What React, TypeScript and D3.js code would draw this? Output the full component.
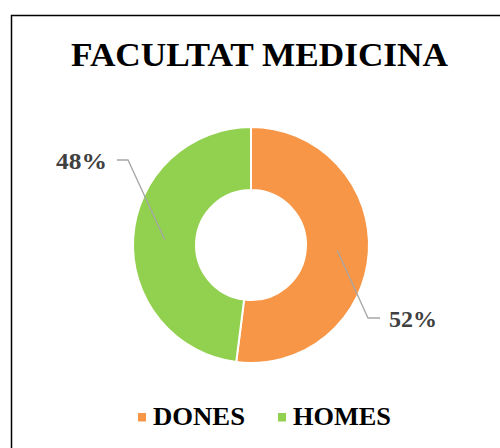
import React, { useEffect, useRef } from "react"
import * as d3 from "d3"

const categories = ["DONES", "HOMES"]
const values = [52, 48]
const colors = ["#F79646", "#92D050"]
const title = "FACULTAT MEDICINA"

const W = 500
const H = 448
const cx = 251
const cy = 245
const outerR = 118
const innerR = 55
// where each leader line bends, relative to the chart centre
const elbows = [[117, 73], [-123, -85]]
const labelWidths = [48, 51]
const legendWidths = [92, 98]
const FONT = "'Liberation Serif', 'Times New Roman', serif"

export default function App() {
  const ref = useRef<SVGSVGElement>(null)

  useEffect(() => {
    const svg = d3.select(ref.current)
    svg.selectAll("*").remove()

    svg.append("rect")
      .attr("x", 11.5).attr("y", 15.5)
      .attr("width", W).attr("height", H)
      .attr("fill", "white").attr("stroke", "black").attr("stroke-width", 1.5)

    svg.append("text")
      .text(title)
      .attr("x", 259.5).attr("y", 66)
      .attr("text-anchor", "middle")
      .attr("textLength", 377).attr("lengthAdjust", "spacingAndGlyphs")
      .attr("font-family", FONT).attr("font-weight", "bold").attr("font-size", 33)
      .attr("fill", "black")

    const pie = d3.pie<number>().sort(null).startAngle(0).endAngle(2 * Math.PI)
    const arcs = pie(values)
    const arc = d3.arc<d3.PieArcDatum<number>>().innerRadius(innerR).outerRadius(outerR)
    const total = d3.sum(values)

    const g = svg.append("g").attr("transform", `translate(${cx},${cy})`)
    g.selectAll("path.slice")
      .data(arcs)
      .enter()
      .append("path")
      .attr("class", "slice")
      .attr("d", arc)
      .attr("fill", (d, i) => colors[i])
      .attr("stroke", "white")
      .attr("stroke-width", 2)

    arcs.forEach((d, i) => {
      const c = arc.centroid(d)
      const e = elbows[i]
      const right = e[0] > 0
      const end = [e[0] + (right ? 12 : -11), e[1]]
      g.append("polyline")
        .attr("points", [c, e, end].map(p => p.join(",")).join(" "))
        .attr("fill", "none")
        .attr("stroke", "#A6A6A6")
        .attr("stroke-width", 1.3)
      g.append("text")
        .text(Math.round((d.data / total) * 100) + "%")
        .attr("x", end[0] + (right ? 9 : -10))
        .attr("y", end[1] + 8.5)
        .attr("text-anchor", right ? "start" : "end")
        .attr("textLength", labelWidths[i]).attr("lengthAdjust", "spacingAndGlyphs")
        .attr("font-family", FONT).attr("font-weight", "bold").attr("font-size", 24)
        .attr("fill", "#404040")
    })

    const legend = svg.append("g")
    const xs = [138, 278]
    categories.forEach((c, i) => {
      legend.append("rect")
        .attr("x", xs[i]).attr("y", 413)
        .attr("width", 8).attr("height", 8.5)
        .attr("fill", colors[i])
      legend.append("text")
        .text(c)
        .attr("x", xs[i] + 15).attr("y", 425)
        .attr("textLength", legendWidths[i]).attr("lengthAdjust", "spacingAndGlyphs")
        .attr("font-family", FONT).attr("font-weight", "bold").attr("font-size", 26)
        .attr("fill", "black")
    })
  }, [])

  return (
    <svg ref={ref} width={W} height={H}
      style={{ position: "absolute", left: 0, top: 0, display: "block" }} />
  )
}
